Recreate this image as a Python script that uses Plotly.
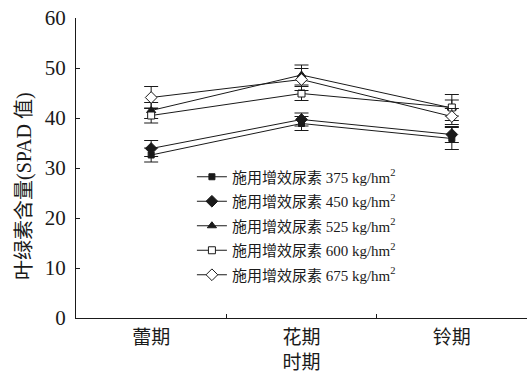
import plotly.graph_objects as go

periods = ["蕾期", "花期", "铃期"]
series_names = [
    "施用增效尿素 375 kg/hm<sup>2</sup>",
    "施用增效尿素 450 kg/hm<sup>2</sup>",
    "施用增效尿素 525 kg/hm<sup>2</sup>",
    "施用增效尿素 600 kg/hm<sup>2</sup>",
    "施用增效尿素 675 kg/hm<sup>2</sup>",
]
v375 = [32.6, 38.9, 35.9]
v450 = [33.9, 39.7, 36.7]
v525 = [41.5, 48.6, 42.0]
v600 = [40.5, 44.9, 42.1]
v675 = [44.1, 47.7, 40.3]
e375 = [1.4, 1.4, 2.2]
e450 = [1.6, 1.3, 1.6]
e525 = [1.6, 2.0, 1.6]
e600 = [1.5, 1.4, 2.6]
e675 = [2.2, 2.2, 1.6]

values = [v375, v450, v525, v600, v675]
errors = [e375, e450, e525, e600, e675]
symbols = ["square", "diamond", "triangle-up", "square", "diamond"]
fills = ["#1a1a1a", "#1a1a1a", "#1a1a1a", "white", "white"]
sizes = [6, 9, 8, 7, 9]

fig = go.Figure()
for i, (name, v, e, s, f, sz) in enumerate(zip(series_names, values, errors, symbols, fills, sizes)):
    fig.add_trace(go.Scatter(
        x=periods, y=v, name=name, mode="lines+markers", legendgroup=f"g{i}",
        line=dict(color="#1a1a1a", width=1),
        marker=dict(symbol=s, size=sz, color=f,
                    line=dict(color="#1a1a1a", width=1)),
        error_y=dict(type="data", array=e, visible=True, color="#1a1a1a",
                     thickness=1, width=7),
    ))

font_fam = "Liberation Serif, Noto Sans CJK SC"
fig.add_annotation(
    text="叶绿素含量(SPAD 值)", textangle=-90, xref="paper", yref="paper",
    x=0, y=0.44, xanchor="center", yanchor="middle", xshift=-52, showarrow=False,
    font=dict(size=20, family=font_fam, color="#1a1a1a"),
)
fig.update_layout(
    width=531, height=378,
    margin=dict(l=76, r=4, t=18, b=60),
    paper_bgcolor="white", plot_bgcolor="white",
    font=dict(family=font_fam, color="#1a1a1a", size=19),
    showlegend=True,
    legend=dict(x=0.257, y=0.525, xanchor="left", yanchor="top",
                bgcolor="rgba(0,0,0,0)", font=dict(size=15, family=font_fam),
                itemwidth=30, tracegroupgap=2),
    xaxis=dict(
        type="category", range=[-0.5, 2.5], showline=True, linecolor="#1a1a1a",
        linewidth=1, ticks="inside", ticklen=4, tickcolor="#1a1a1a",
        tickson="boundaries", showgrid=False, zeroline=False,
        title=dict(text="时期", font=dict(size=19), standoff=8),
        tickfont=dict(size=19), ticklabelstandoff=2,
    ),
    yaxis=dict(
        range=[0, 60], tickvals=[0, 10, 20, 30, 40, 50, 60],
        showline=True, linecolor="#1a1a1a", linewidth=1,
        ticks="inside", ticklen=4, tickcolor="#1a1a1a", showgrid=False,
        zeroline=False, tickfont=dict(size=21), ticklabelstandoff=5,
        ticklabeloverflow="allow",
    ),
)
fig.write_html("out.html", config={"displayModeBar": False},
               post_script="document.body.style.margin='0';")
